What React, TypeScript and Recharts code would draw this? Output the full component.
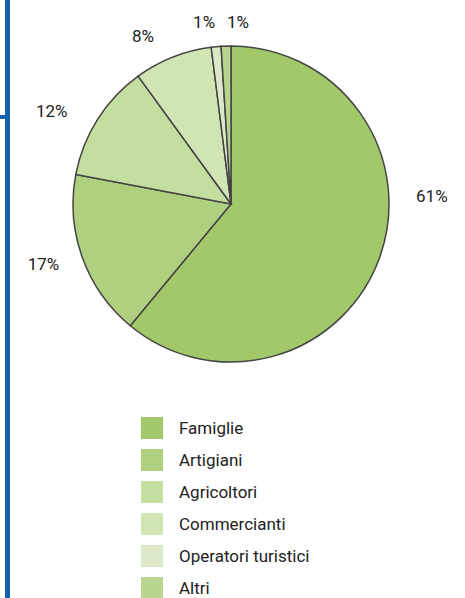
import { PieChart, Pie, Cell } from 'recharts'

const categories = ['Famiglie', 'Artigiani', 'Agricoltori', 'Commercianti', 'Operatori turistici', 'Altri']
const shares = [61, 17, 12, 8, 1, 1]
const colors = ['#a2c86a', '#afd07f', '#c4de9f', '#d1e4b4', '#dce9c8', '#b8d590']

// label nudges (degrees / px) so the percentages sit like in the print layout
const labelShift = [22, -2, 5, 6, 3, -4]
const labelRadius = [201, 197, 202, 190, 184, 182]

const RAD = Math.PI / 180
const FONT = 'Roboto, "Open Sans", sans-serif'

const pieData = categories.map((name, i) => ({ name, value: shares[i] }))

function renderLabel(props: any) {
  const { cx, cy, midAngle, index, value } = props
  const a = (midAngle + labelShift[index]) * RAD
  const r = labelRadius[index]
  const x = cx + r * Math.cos(a)
  const y = cy - r * Math.sin(a)
  return (
    <text x={x} y={y} textAnchor="middle" dominantBaseline="central" fill="#222" fontSize={17} fontFamily={FONT}>
      {`${value}%`}
    </text>
  )
}

export default function App() {
  return (
    <div style={{ position: 'absolute', left: 0, top: 0, width: 465, height: 598, background: '#fff', overflow: 'hidden' }}>
      <div style={{ position: 'absolute', left: 5, top: 0, width: 5, height: 598, background: '#1560ad' }} />
      <div style={{ position: 'absolute', left: 0, top: 115, width: 6, height: 4, background: '#1560ad' }} />
      <div style={{ position: 'absolute', left: 0, top: 0 }}>
        <PieChart width={465} height={400}>
          <Pie
            data={pieData}
            dataKey="value"
            cx={226}
            cy={199}
            outerRadius={158}
            startAngle={90}
            endAngle={-270}
            stroke="#444"
            strokeWidth={1.5}
            labelLine={false}
            label={renderLabel}
            isAnimationActive={false}
          >
            {pieData.map((entry, index) => (
              <Cell key={`cell-${index}`} fill={colors[index]} />
            ))}
          </Pie>
        </PieChart>
      </div>
      <div style={{ position: 'absolute', left: 141, top: 417, fontFamily: FONT, fontSize: 17, color: '#222' }}>
        {categories.map((name, i) => (
          <div key={name} style={{ display: 'flex', alignItems: 'center', height: 22, marginBottom: 10 }}>
            <div style={{ width: 22, height: 22, background: colors[i], marginRight: 16 }} />
            <span>{name}</span>
          </div>
        ))}
      </div>
    </div>
  )
}
